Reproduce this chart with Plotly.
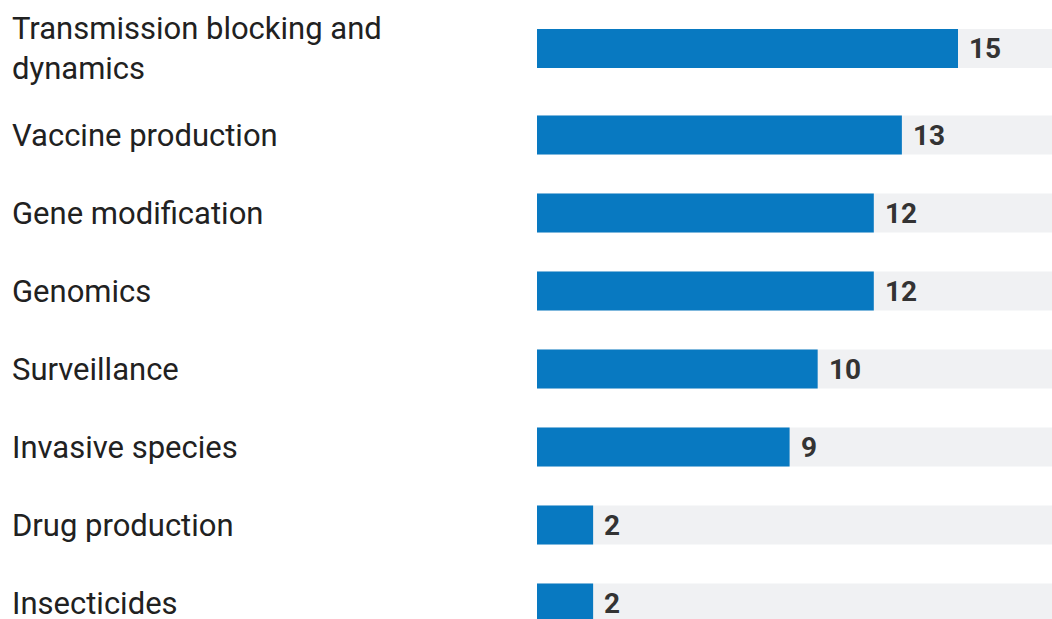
import plotly.graph_objects as go

# Research areas and their counts
categories = [
    "Transmission blocking and<br>dynamics",
    "Vaccine production",
    "Gene modification",
    "Genomics",
    "Surveillance",
    "Invasive species",
    "Drug production",
    "Insecticides",
]
counts = [15, 13, 12, 12, 10, 9, 2, 2]

W, H = 1052, 619
BAR_LEFT_PX = 537          # where the value axis starts
PX_PER_UNIT = 421 / 15     # horizontal scale of the bars
ROW_PX = 78                # vertical pitch of a single-line row
EXTRA_LINE_PX = 17         # added row height for each extra label line
TOP_PAD_PX = 1
BAR_PX = 39

BLUE = "#0879c1"
TRACK = "#f0f1f3"
TEXT = "#212121"
VALUE_TEXT = "#333333"
FONT = "Roboto, 'Open Sans', sans-serif"

# Row centres, measured from the top, growing with multi-line labels
centres = []
cursor = TOP_PAD_PX
for lab in categories:
    lines = lab.count("<br>") + 1
    h = ROW_PX + EXTRA_LINE_PX * (lines - 1)
    centres.append(cursor + h / 2)
    cursor += h

x_min = -BAR_LEFT_PX / PX_PER_UNIT
x_max = (W - BAR_LEFT_PX) / PX_PER_UNIT

fig = go.Figure()

# Light grey track behind every bar
fig.add_trace(go.Bar(
    x=[x_max + 1] * len(categories), y=centres, base=0,
    orientation="h", width=BAR_PX, marker=dict(color=TRACK, line=dict(width=0)),
    hoverinfo="skip", showlegend=False,
))

# Value bars
fig.add_trace(go.Bar(
    x=counts, y=centres, base=0,
    orientation="h", width=BAR_PX, marker=dict(color=BLUE, line=dict(width=0)),
    showlegend=False,
))

annotations = []
for lab, c in zip(categories, centres):
    annotations.append(dict(
        x=10 / W, xref="paper", y=c, yref="y", text=lab,
        xanchor="left", yanchor="middle", align="left", showarrow=False,
        font=dict(family=FONT, size=31, color=TEXT),
    ))
for v, c in zip(counts, centres):
    annotations.append(dict(
        x=v, xref="x", y=c, yref="y", text=f"<b>{v}</b>",
        xanchor="left", yanchor="middle", xshift=9, showarrow=False,
        font=dict(family=FONT, size=28, color=VALUE_TEXT),
    ))

fig.update_layout(
    width=W, height=H,
    margin=dict(l=0, r=0, t=0, b=0),
    paper_bgcolor="white", plot_bgcolor="white",
    barmode="overlay",
    xaxis=dict(range=[x_min, x_max], visible=False, fixedrange=True),
    yaxis=dict(range=[H, 0], visible=False, fixedrange=True),
    annotations=annotations,
)

fig.write_html("out.html")
